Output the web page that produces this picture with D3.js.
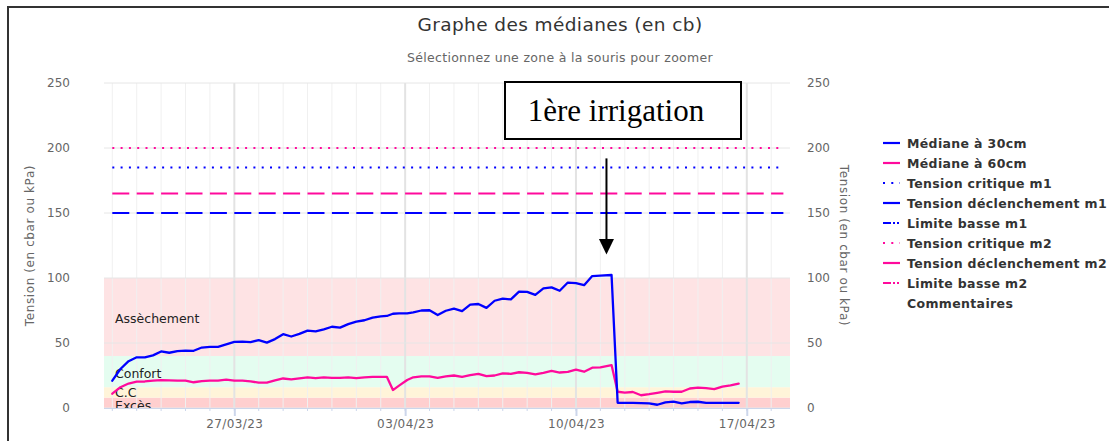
<!DOCTYPE html>
<html>
<head>
<meta charset="utf-8">
<script src="https://d3js.org/d3.v7.min.js"></script>
<style>
  body { margin: 0; background: #fff; }
  svg { font-family: "DejaVu Sans", sans-serif; }
</style>
</head>
<body>
<script>
// ---- data ----
const times = [
  "2023-03-22 00:00","2023-03-22 08:00","2023-03-22 16:00","2023-03-23 00:00","2023-03-23 08:00","2023-03-23 16:00",
  "2023-03-24 00:00","2023-03-24 08:00","2023-03-24 16:00","2023-03-25 00:00","2023-03-25 08:00","2023-03-25 16:00",
  "2023-03-26 00:00","2023-03-26 08:00","2023-03-26 16:00","2023-03-27 00:00","2023-03-27 08:00","2023-03-27 16:00",
  "2023-03-28 00:00","2023-03-28 08:00","2023-03-28 16:00","2023-03-29 00:00","2023-03-29 08:00","2023-03-29 16:00",
  "2023-03-30 00:00","2023-03-30 08:00","2023-03-30 16:00","2023-03-31 00:00","2023-03-31 08:00","2023-03-31 16:00",
  "2023-04-01 00:00","2023-04-01 08:00","2023-04-01 16:00","2023-04-02 00:00","2023-04-02 06:00","2023-04-02 12:00",
  "2023-04-02 18:00","2023-04-03 02:00","2023-04-03 08:00","2023-04-03 16:00","2023-04-04 00:00","2023-04-04 08:00",
  "2023-04-04 16:00","2023-04-05 00:00","2023-04-05 08:00","2023-04-05 16:00","2023-04-06 00:00","2023-04-06 08:00",
  "2023-04-06 16:00","2023-04-07 00:00","2023-04-07 08:00","2023-04-07 16:00","2023-04-08 00:00","2023-04-08 08:00",
  "2023-04-08 16:00","2023-04-09 00:00","2023-04-09 08:00","2023-04-09 16:00","2023-04-10 00:00","2023-04-10 08:00",
  "2023-04-10 16:00","2023-04-11 00:00","2023-04-11 11:00","2023-04-11 17:00","2023-04-12 00:00","2023-04-12 08:00",
  "2023-04-12 16:00","2023-04-13 00:00","2023-04-13 08:00","2023-04-13 16:00","2023-04-14 00:00","2023-04-14 08:00",
  "2023-04-14 16:00","2023-04-15 00:00","2023-04-15 08:00","2023-04-15 16:00","2023-04-16 00:00","2023-04-16 08:00",
  "2023-04-16 16:00"
];
const median30 = [
  21, 30, 36, 39, 39, 40.5, 43.5, 42.5, 43.8, 44.2, 44, 46.5,
  47, 47, 49, 50.8, 51, 50.7, 52.2, 50.3, 53, 56.8, 55, 57,
  59.5, 59, 60.5, 62.5, 61.8, 64.5, 66.4, 67.5, 69.5, 70.5, 70.8, 72.5,
  72.8, 72.8, 73.5, 75, 75.2, 71.5, 74.8, 76.5, 74.5, 79.5, 80, 77,
  82.5, 84.2, 83.5, 89.5, 89.3, 87, 92, 92.8, 90.2, 96.5, 96, 94.5,
  101.5, 101.8, 102.3, 4, 4, 4, 3.8, 3.6, 2.5, 4.3, 4.9, 3.6,
  4.6, 4.8, 4, 4, 4, 4, 4
];
const median60 = [
  11, 16, 18.8, 20.3, 20.4, 21, 21.5, 21.3, 21, 21, 19.8, 20.7,
  21, 21, 21.8, 21, 21, 20.5, 19.5, 19.5, 21.3, 22.7, 22, 22.8,
  23.5, 22.9, 23.5, 23.1, 23.1, 23.5, 23, 23.6, 24, 24, 24, 13.8,
  17.2, 21.5, 23.6, 24.3, 24.4, 23.2, 24.3, 25, 24, 25.2, 26.3, 24.5,
  25, 26.6, 26.3, 27.5, 27, 25.8, 27, 28.5, 27.3, 27.8, 29.5, 27.9,
  31, 31.3, 33, 12.5, 11.8, 12.3, 9.8, 10.6, 11.7, 12.8, 12.5, 12.5,
  15, 15.6, 15.3, 14.6, 16.4, 17.4, 18.8
];
const refNames  = ["Tension critique m1", "Tension déclenchement m1", "Limite basse m1",
                   "Tension critique m2", "Tension déclenchement m2", "Limite basse m2"];
const refValues = [185, 150, null, 200, 165, null];
const refSpan   = ["2023-03-22 00:00", "2023-04-18 12:00"];
const bandNames  = ["Excès", "C.C", "Confort", "Assèchement"];
const bandLimits = [0, 8, 16, 40, 100];
const yTicks = [0, 50, 100, 150, 200, 250];
const xRange = ["2023-03-21 15:50", "2023-04-18 18:30"];
const legendNames = ["Médiane à 30cm", "Médiane à 60cm", ...refNames, "Commentaires"];
const annotationText = "1ère irrigation";
const annotationDate = "2023-04-11 06:00";

// ---- layout ----
const W = 1109, H = 441;
const plot = {left: 104, right: 790, top: 83, bottom: 408};
const BLUE = "#0000ff", PINK = "#ff0a9c";
const parse = d3.timeParse("%Y-%m-%d %H:%M");

const x = d3.scaleTime().domain(xRange.map(parse)).range([plot.left, plot.right]);
const y = d3.scaleLinear().domain([0, 250]).range([plot.bottom, plot.top]);

const svg = d3.select("body").append("svg")
  .attr("width", W).attr("height", H);

// outer frame
svg.append("rect").attr("x", 8).attr("y", 7).attr("width", 1200).attr("height", 600)
  .attr("fill", "none").attr("stroke", "#333").attr("stroke-width", 2);

// title
svg.append("text").attr("x", 560).attr("y", 31).attr("text-anchor", "middle")
  .style("font-size", "18.5px").style("letter-spacing", "0.4px").style("fill", "#333")
  .text("Graphe des médianes (en cb)");
svg.append("text").attr("x", 560).attr("y", 62).attr("text-anchor", "middle")
  .style("font-size", "12.5px").style("letter-spacing", "0.3px").style("fill", "#666")
  .text("Sélectionnez une zone à la souris pour zoomer");

// plot bands
const bandColors = ["#ffcfcf", "#fff4d9", "#e4fdf0", "#fee3e4"];
svg.append("g").selectAll("rect")
  .data(bandNames)
  .join("rect")
  .attr("x", plot.left).attr("width", plot.right - plot.left)
  .attr("y", (d, i) => y(bandLimits[i + 1]))
  .attr("height", (d, i) => y(bandLimits[i]) - y(bandLimits[i + 1]))
  .attr("fill", (d, i) => bandColors[i]);

// grid
const days = d3.timeDay.range(x.domain()[0], x.domain()[1]);
const weeks = d3.timeMonday.range(x.domain()[0], x.domain()[1]);
const grid = svg.append("g");
grid.selectAll(".minor").data(days).join("line")
  .attr("x1", d => x(d)).attr("x2", d => x(d))
  .attr("y1", plot.top).attr("y2", plot.bottom)
  .attr("stroke", "#f0f0f0").attr("stroke-width", 1);
grid.selectAll(".major").data(weeks).join("line")
  .attr("x1", d => x(d)).attr("x2", d => x(d))
  .attr("y1", plot.top).attr("y2", plot.bottom)
  .attr("stroke", "#e3e3e3").attr("stroke-width", 2);
grid.selectAll(".h").data(yTicks).join("line")
  .attr("x1", plot.left).attr("x2", plot.right)
  .attr("y1", d => y(d)).attr("y2", d => y(d))
  .attr("stroke", "#e6e6e6").attr("stroke-width", 1);

// band labels (clipped to plot)
svg.append("clipPath").attr("id", "clip").append("rect")
  .attr("x", plot.left).attr("y", plot.top).attr("width", plot.right - plot.left)
  .attr("height", plot.bottom - plot.top + 1);
const labelOffsets = [2, -0.5, -9, -33];
svg.append("g").attr("clip-path", "url(#clip)").selectAll("text")
  .data(bandNames).join("text")
  .attr("x", plot.left + 11)
  .attr("y", (d, i) => y(bandLimits[i]) + labelOffsets[i])
  .style("font-size", "12.5px").style("fill", "#222")
  .text(d => d);

// axes
const yFmt = d3.format("d");
const axL = svg.append("g").attr("transform", `translate(${plot.left},0)`)
  .call(d3.axisLeft(y).tickValues(yTicks).tickSize(0).tickPadding(34).tickFormat(yFmt));
const axR = svg.append("g").attr("transform", `translate(${plot.right},0)`)
  .call(d3.axisRight(y).tickValues(yTicks).tickSize(0).tickPadding(17).tickFormat(yFmt));
[axL, axR].forEach(a => {
  a.select(".domain").remove();
  a.selectAll("text").style("font-size", "12px").style("fill", "#666").style("font-family", "DejaVu Sans");
});

// x axis
svg.append("line").attr("x1", plot.left).attr("x2", plot.right)
  .attr("y1", plot.bottom + 0.5).attr("y2", plot.bottom + 0.5).attr("stroke", "#ccd6eb");
svg.append("g").selectAll("line").data(days).join("line")
  .attr("x1", d => x(d)).attr("x2", d => x(d))
  .attr("y1", plot.bottom).attr("y2", plot.bottom + 3)
  .attr("stroke", "#ccd6eb");
const axB = svg.append("g").attr("transform", `translate(0,${plot.bottom})`)
  .call(d3.axisBottom(x).tickValues(weeks).tickSize(8).tickPadding(3.5)
    .tickFormat(d3.timeFormat("%d/%m/%y")));
axB.select(".domain").remove();
axB.selectAll("line").attr("stroke", "#ccd6eb").attr("stroke-width", 2);
axB.selectAll("text").style("font-size", "12px").style("fill", "#666")
  .style("font-family", "DejaVu Sans").style("letter-spacing", "0.4px");

// axis titles
svg.append("text").attr("transform", `translate(30,${(plot.top + plot.bottom) / 2}) rotate(-90)`)
  .attr("text-anchor", "middle").attr("dominant-baseline", "central")
  .style("font-size", "12px").style("letter-spacing", "0.6px").style("fill", "#666")
  .text("Tension (en cbar ou kPa)");
svg.append("text").attr("transform", `translate(844,${(plot.top + plot.bottom) / 2}) rotate(90)`)
  .attr("text-anchor", "middle").attr("dominant-baseline", "central")
  .style("font-size", "12px").style("letter-spacing", "0.6px").style("fill", "#666")
  .text("Tension (en cbar ou kPa)");

// reference lines
const dashOf = name => name.startsWith("Tension critique") ? "2,6.3"
  : name.startsWith("Tension déclenchement") ? "17,7.4" : "8,2,2,2,2,2";
const colorOf = name => name.endsWith("m1") ? BLUE : PINK;
svg.append("g").selectAll("line")
  .data(refNames.map((n, i) => ({name: n, value: refValues[i]})).filter(d => d.value !== null))
  .join("line")
  .attr("x1", x(parse(refSpan[0]))).attr("x2", x(parse(refSpan[1])))
  .attr("y1", d => y(d.value)).attr("y2", d => y(d.value))
  .attr("stroke", d => colorOf(d.name)).attr("stroke-width", 2.2)
  .attr("stroke-dasharray", d => dashOf(d.name));

// median series
const line = d3.line().x(d => x(parse(d[0]))).y(d => y(d[1]));
[[median60, PINK], [median30, BLUE]].forEach(([vals, col]) => {
  svg.append("path")
    .datum(times.map((t, i) => [t, vals[i]]))
    .attr("d", line)
    .attr("fill", "none").attr("stroke", col).attr("stroke-width", 2.3)
    .attr("stroke-linejoin", "round").attr("stroke-linecap", "round");
});

// legend
const lg = svg.append("g").attr("transform", "translate(883,0)");
legendNames.forEach((name, i) => {
  const by = 147.5 + i * 20;
  if (name !== "Commentaires") {
    const isRef = refNames.includes(name);
    let dash = null;
    if (isRef && !name.startsWith("Tension déclenchement")) dash = dashOf(name);
    lg.append("line").attr("x1", 0).attr("x2", 17)
      .attr("y1", by - 4.5).attr("y2", by - 4.5)
      .attr("stroke", name.includes("30cm") || name.endsWith("m1") ? BLUE : PINK)
      .attr("stroke-width", 2.2)
      .attr("stroke-dasharray", dash);
  }
  lg.append("text").attr("x", 24).attr("y", by)
    .style("font-size", "12.5px").style("letter-spacing", "0.35px")
    .style("font-weight", "bold").style("fill", "#333")
    .text(name);
});

// annotation
svg.append("rect").attr("x", 505).attr("y", 82).attr("width", 236).attr("height", 57)
  .attr("fill", "#fff").attr("stroke", "#000").attr("stroke-width", 2);
svg.append("text").attr("x", 616).attr("y", 121).attr("text-anchor", "middle")
  .style("font-family", "Liberation Serif, serif").style("font-size", "31px").style("fill", "#000")
  .text(annotationText);
const ax = x(parse(annotationDate));
svg.append("line").attr("x1", ax).attr("x2", ax).attr("y1", y(192)).attr("y2", y(126))
  .attr("stroke", "#000").attr("stroke-width", 2);
svg.append("path")
  .attr("d", `M${ax - 7.5},${y(130)} L${ax + 7.5},${y(130)} L${ax},${y(118)} Z`)
  .attr("fill", "#000");
</script>
</body>
</html>
